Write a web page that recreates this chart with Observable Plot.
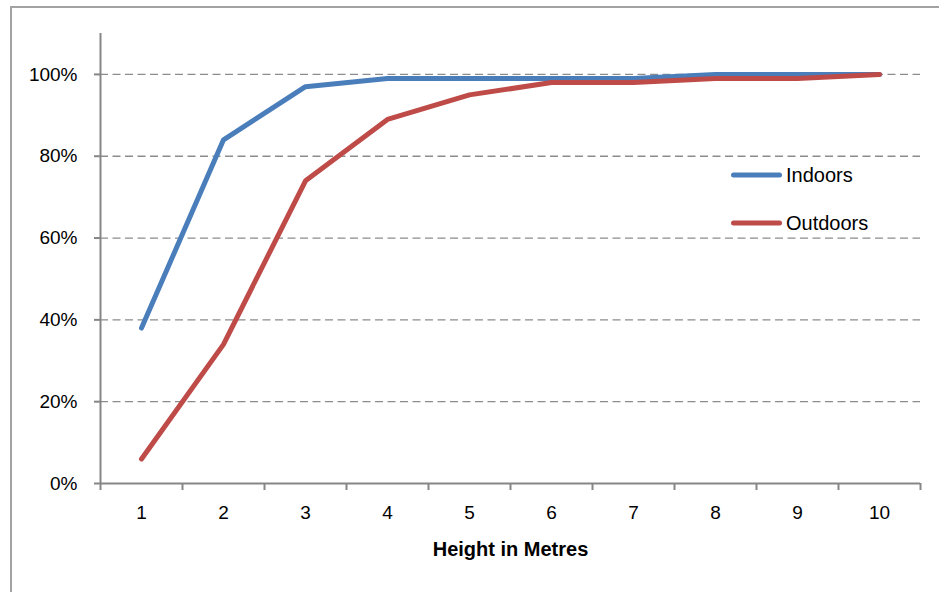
<!DOCTYPE html>
<html>
<head>
<meta charset="utf-8">
<script src="https://cdn.jsdelivr.net/npm/d3@7"></script>
<script src="https://cdn.jsdelivr.net/npm/@observablehq/plot@0.6"></script>
<style>
  html, body { margin: 0; padding: 0; background: #fff; overflow: hidden; }
  #wrap { position: relative; width: 939px; height: 592px; font-family: "Liberation Sans", Arial, sans-serif; }
  #frame { position: absolute; left: 10px; top: 6px; width: 1000px; height: 1000px; border: 2px solid #a3a3a3; box-sizing: border-box; pointer-events: none; }
  #chart { position: absolute; left: 0; top: 0; }
  .legend { position: absolute; left: 731px; font-size: 20px; color: #000; }
  .legend .item { position: absolute; left: 0; display: flex; align-items: center; white-space: nowrap; transform: translateY(-50%); }
  .legend .swatch { width: 51px; height: 5px; border-radius: 3px; margin-right: 4px; }
</style>
</head>
<body>
<div id="wrap">
  <div id="frame"></div>
  <div id="chart"></div>
  <div class="legend" id="legend"></div>
</div>
<script>
// Share of falls (cumulative) by height, in metres
const heights = [1, 2, 3, 4, 5, 6, 7, 8, 9, 10];
const indoors = [0.38, 0.84, 0.97, 0.99, 0.99, 0.99, 0.99, 1.00, 1.00, 1.00];
const outdoors = [0.06, 0.34, 0.74, 0.89, 0.95, 0.98, 0.98, 0.99, 0.99, 1.00];
const seriesNames = ["Indoors", "Outdoors"];
const seriesColors = ["#4a7ebb", "#be4b48"];
const yTicks = [0, 0.2, 0.4, 0.6, 0.8, 1.0];
const xTitle = "Height in Metres";

const rows = [
  ...heights.map((h, i) => ({height: h, share: indoors[i], series: "Indoors"})),
  ...heights.map((h, i) => ({height: h, share: outdoors[i], series: "Outdoors"}))
];

const xDomain = [heights[0] - 0.5, heights[heights.length - 1] + 0.5];
const yDomain = [0, 1.1];
const boundaries = [...heights.map(h => h - 0.5), xDomain[1]];
const axisGray = "#868686";

const chart = Plot.plot({
  width: 939,
  height: 592,
  marginLeft: 100,
  marginRight: 19,
  marginTop: 33,
  marginBottom: 109,
  style: {fontFamily: "'Liberation Sans', Arial, sans-serif", fontSize: "19px", color: "#000", background: "transparent"},
  x: {domain: xDomain, axis: null, label: null},
  y: {domain: yDomain, axis: null, label: null},
  color: {domain: seriesNames, range: seriesColors},
  marks: [
    // dashed horizontal gridlines
    Plot.ruleY(yTicks.filter(d => d > 0), {stroke: "#8c8c8c", strokeWidth: 1.3, strokeDasharray: "8,4.5"}),
    // y axis: tick marks and percentage labels
    Plot.axisY({ticks: yTicks, label: null, tickSize: 6, tickFormat: () => "", stroke: axisGray, strokeWidth: 2, strokeOpacity: 1}),
    Plot.axisY({ticks: yTicks, label: null, tickSize: 0, tickPadding: 23, tickFormat: d3.format(".0%"), fill: "#000", fontSize: 19}),
    // x axis: tick marks between categories, labels at category centres
    Plot.axisX({ticks: boundaries, label: null, tickSize: 7, tickFormat: () => "", stroke: axisGray, strokeWidth: 2, strokeOpacity: 1}),
    Plot.axisX({ticks: heights, label: null, tickSize: 0, tickPadding: 22, tickFormat: d => String(d), fill: "#000", fontSize: 19}),
    Plot.ruleX([xDomain[0]], {y1: yDomain[0], y2: yDomain[1], stroke: axisGray, strokeWidth: 2}),
    Plot.ruleY([0], {stroke: axisGray, strokeWidth: 2}),
    // series lines
    Plot.line(rows, {x: "height", y: "share", stroke: "series", z: "series", strokeWidth: 5, strokeLinejoin: "round", strokeLinecap: "round"}),
    // axis title
    Plot.text([xTitle], {frameAnchor: "bottom", dy: 66, lineAnchor: "middle", fontWeight: "bold", fontSize: 20, fill: "#000"})
  ]
});
document.getElementById("chart").append(chart);

// legend
const legend = document.getElementById("legend");
const legendY = [175, 223];
seriesNames.forEach((name, i) => {
  const item = document.createElement("div");
  item.className = "item";
  item.style.top = legendY[i] + "px";
  const sw = document.createElement("span");
  sw.className = "swatch";
  sw.style.background = seriesColors[i];
  const label = document.createElement("span");
  label.textContent = name;
  item.append(sw, label);
  legend.append(item);
});
</script>
</body>
</html>
